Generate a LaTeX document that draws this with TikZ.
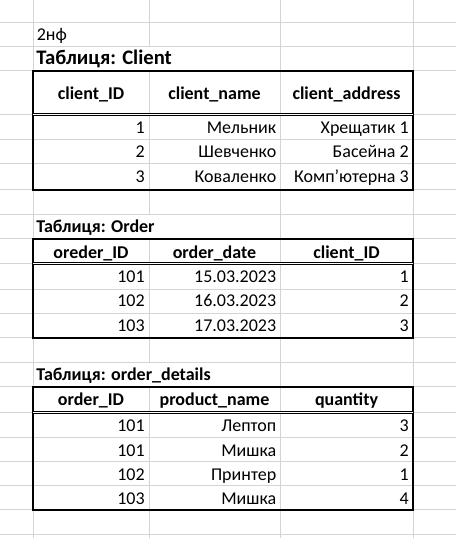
\documentclass[tikz,border=0pt]{standalone}
\usepackage{fontspec}
\setmainfont{Carlito}
\usepackage{tikz}
\definecolor{gridgray}{RGB}{212,212,212}
\newcommand{\cellfont}{\fontsize{13.5}{15}\selectfont}

\tikzset{
  gridline/.style={draw=gridgray, line width=0.75pt},
  tblframe/.style={draw=black, line width=1.5pt},
  headrule/.style={double, double distance=0.75pt, line width=0.75pt},
  datacell/.style={inner sep=0pt, anchor=base east, font=\cellfont},
  headcell/.style={inner sep=0pt, anchor=base, font=\cellfont\bfseries},
  tabtitle/.style={inner sep=0pt, anchor=base west, font=\cellfont\bfseries}
}

\begin{document}
\begin{tikzpicture}[x=0.75pt, y=-0.75pt]
  \useasboundingbox (0, 0) rectangle (456, 538);

  % sheet grid
  \draw[gridline] (0, 22.7) -- (456, 22.7)  (0, 46.7) -- (456, 46.7)
                  (0, 70.7) -- (456, 70.7)  (0, 114.3) -- (456, 114.3)
                  (0, 139.3) -- (456, 139.3)  (0, 163.3) -- (456, 163.3)
                  (0, 189.7) -- (456, 189.7)  (0, 214) -- (456, 214)
                  (0, 238.5) -- (456, 238.5)  (0, 263.3) -- (456, 263.3)
                  (0, 289) -- (456, 289)  (0, 313) -- (456, 313)
                  (0, 337.5) -- (456, 337.5)  (0, 362) -- (456, 362)
                  (0, 386.7) -- (456, 386.7)  (0, 412.3) -- (456, 412.3)
                  (0, 437) -- (456, 437)  (0, 461) -- (456, 461)
                  (0, 485) -- (456, 485)  (0, 509.7) -- (456, 509.7)
                  (0, 534) -- (456, 534);
  \draw[gridline] (33, 0) -- (33, 538)  (280, 0) -- (280, 538)
                  (413, 0) -- (413, 538)
                  (149, 0) -- (149, 46.7)  (149, 70.7) -- (149, 214)
                  (149, 238.5) -- (149, 362)  (149, 386.7) -- (149, 538);

  % table frames
  \draw[tblframe] (33, 70.7) rectangle (413, 189.7);
  \draw[headrule] (33, 114.3) -- (413, 114.3);
  \draw[tblframe] (33, 238.5) rectangle (413, 337.5);
  \draw[headrule] (33, 263.3) -- (413, 263.3);
  \draw[tblframe] (33, 386.7) rectangle (413, 509.7);
  \draw[headrule] (33, 412.3) -- (413, 412.3);

  \node[inner sep=0pt, anchor=base west, font=\cellfont]
    (nf) at (36.5, 41) {2нф};

  % Client
  \node[tabtitle, font=\fontsize{15.5}{17}\selectfont\bfseries]
    (tclient) at (36, 65) {Таблиця: Client};
  \node[headcell] (cidh) at (91, 99.5) {client\_ID};
  \node[headcell] (cnameh) at (214.5, 99.5) {client\_name};
  \node[headcell] (caddrh) at (346.5, 99.5) {client\_address};
  \node[datacell] (cid1) at (145, 133.3) {1};
  \node[datacell] (cname1) at (276.5, 133.3) {Мельник};
  \node[datacell] (caddr1) at (409, 133.3) {Хрещатик 1};
  \node[datacell] (cid2) at (145, 157.8) {2};
  \node[datacell] (cname2) at (276.5, 157.8) {Шевченко};
  \node[datacell] (caddr2) at (409, 157.8) {Басейна 2};
  \node[datacell] (cid3) at (145, 182.7) {3};
  \node[datacell] (cname3) at (276.5, 182.7) {Коваленко};
  \node[datacell] (caddr3) at (409, 182.7) {Комп’ютерна 3};

  % Order
  \node[tabtitle] (torder) at (36, 232.3) {Таблиця: Order};
  \node[headcell] (oidh) at (91, 258.3) {oreder\_ID};
  \node[headcell] (odateh) at (214.5, 258.3) {order\_date};
  \node[headcell] (ocidh) at (346.5, 258.3) {client\_ID};
  \node[datacell] (oid1) at (145, 282.3) {101};
  \node[datacell] (odate1) at (276.5, 282.3) {15.03.2023};
  \node[datacell] (ocid1) at (409, 282.3) {1};
  \node[datacell] (oid2) at (145, 306.7) {102};
  \node[datacell] (odate2) at (276.5, 306.7) {16.03.2023};
  \node[datacell] (ocid2) at (409, 306.7) {2};
  \node[datacell] (oid3) at (145, 331.3) {103};
  \node[datacell] (odate3) at (276.5, 331.3) {17.03.2023};
  \node[datacell] (ocid3) at (409, 331.3) {3};

  % order_details
  \node[tabtitle] (tdetails) at (36, 380.7) {Таблиця: order\_details};
  \node[headcell] (didh) at (91, 405.7) {order\_ID};
  \node[headcell] (dprodh) at (214.5, 405.7) {product\_name};
  \node[headcell] (dqtyh) at (346.5, 405.7) {quantity};
  \node[datacell] (did1) at (145, 431.7) {101};
  \node[datacell] (dprod1) at (276.5, 431.7) {Лептоп};
  \node[datacell] (dqty1) at (409, 431.7) {3};
  \node[datacell] (did2) at (145, 456) {101};
  \node[datacell] (dprod2) at (276.5, 456) {Мишка};
  \node[datacell] (dqty2) at (409, 456) {2};
  \node[datacell] (did3) at (145, 480) {102};
  \node[datacell] (dprod3) at (276.5, 480) {Принтер};
  \node[datacell] (dqty3) at (409, 480) {1};
  \node[datacell] (did4) at (145, 504) {103};
  \node[datacell] (dprod4) at (276.5, 504) {Мишка};
  \node[datacell] (dqty4) at (409, 504) {4};

\end{tikzpicture}
\end{document}
